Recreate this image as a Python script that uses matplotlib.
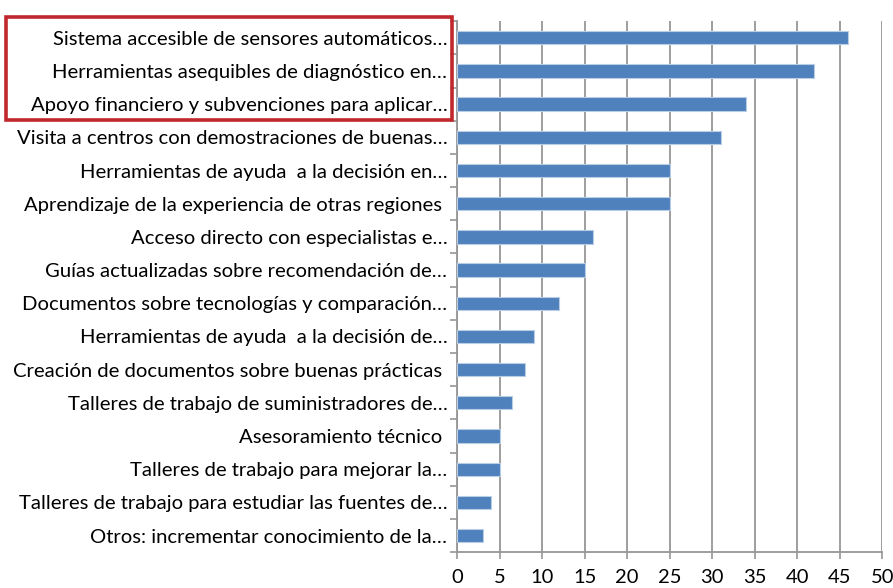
import matplotlib
matplotlib.use("Agg")
import matplotlib.pyplot as plt
import numpy as np
from matplotlib.patches import Rectangle

plt.rcParams['font.family'] = ['Lato', 'DejaVu Sans']

# categories, top to bottom
labels = [
    "Sistema accesible de sensores automáticos…",
    "Herramientas asequibles de diagnóstico en…",
    "Apoyo financiero y subvenciones para aplicar…",
    "Visita a centros con demostraciones de buenas…",
    "Herramientas de ayuda  a la decisión en…",
    "Aprendizaje de la experiencia de otras regiones ",
    "Acceso directo con especialistas e…",
    "Guías actualizadas sobre recomendación de…",
    "Documentos sobre tecnologías y comparación…",
    "Herramientas de ayuda  a la decisión de…",
    "Creación de documentos sobre buenas prácticas ",
    "Talleres de trabajo de suministradores de…",
    "Asesoramiento técnico ",
    "Talleres de trabajo para mejorar la…",
    "Talleres de trabajo para estudiar las fuentes de…",
    "Otros: incrementar conocimiento de la…",
]
values = [46, 42, 34, 31, 25, 25, 16, 15, 12, 9, 8, 6.5, 5, 5, 4, 3]
xticks = list(range(0, 55, 5))

fig = plt.figure(figsize=(8.93, 5.88), dpi=100)
ax = fig.add_axes([0.512, 0.061, 0.476, 0.903])

n = len(labels)
y = np.arange(n)[::-1]
ax.barh(y, values, height=0.4, color='#4F81BD', edgecolor='#B9CDE5', linewidth=0.8, zorder=3)

ax.set_xlim(0, 50)
ax.set_ylim(-0.5, n - 0.5)
ax.set_xticks(xticks)
ax.set_xticklabels([str(t) for t in xticks], fontsize=14.5)
ax.set_yticks(y)
ax.set_yticklabels(labels, fontsize=14.6)
ax.set_yticks(np.arange(-0.5, n, 1), minor=True)

ax.grid(axis='x', color='#969696', linewidth=1.3, zorder=0)
ax.tick_params(axis='y', which='major', length=0, pad=7)
ax.tick_params(axis='y', which='minor', length=5, color='#969696', width=1.2)
ax.tick_params(axis='x', length=5, color='#969696', width=1.2, pad=7)

for s in ['top', 'right']:
    ax.spines[s].set_visible(False)
for s in ['left', 'bottom']:
    ax.spines[s].set_color('#969696')
    ax.spines[s].set_linewidth(1.3)

# red box around top three labels
fig.patches.append(Rectangle((6 / 893, 1 - 120 / 588), 446 / 893, 103 / 588,
                             transform=fig.transFigure, fill=False,
                             edgecolor='#C0282D', linewidth=2.6, zorder=10))

fig.savefig("out.png", dpi=100)
